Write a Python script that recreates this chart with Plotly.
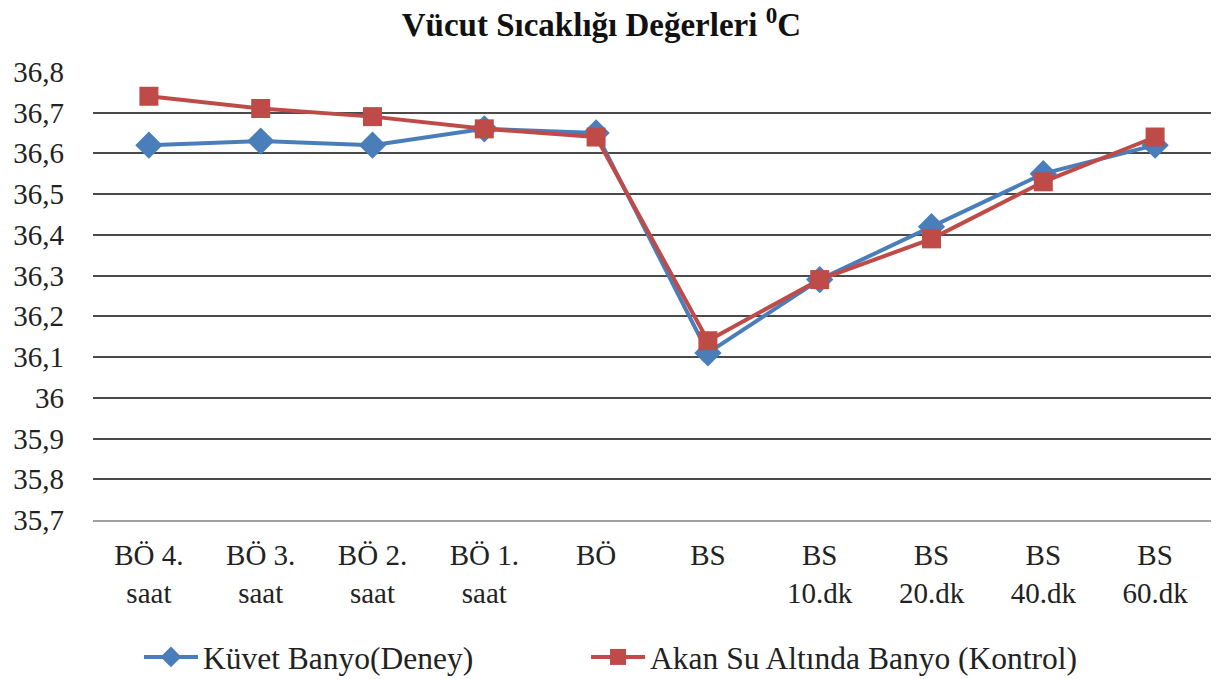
import plotly.graph_objects as go

categories = ["BÖ 4.<br>saat", "BÖ 3.<br>saat", "BÖ 2.<br>saat", "BÖ 1.<br>saat", "BÖ",
              "BS", "BS<br>10.dk", "BS<br>20.dk", "BS<br>40.dk", "BS<br>60.dk"]
kuvet = [36.62, 36.63, 36.62, 36.66, 36.65, 36.11, 36.29, 36.42, 36.55, 36.62]
akan = [36.74, 36.71, 36.69, 36.66, 36.64, 36.14, 36.29, 36.39, 36.53, 36.64]
ytick_vals = [35.7, 35.8, 35.9, 36.0, 36.1, 36.2, 36.3, 36.4, 36.5, 36.6, 36.7, 36.8]
ytick_text = ["35,7", "35,8", "35,9", "36", "36,1", "36,2", "36,3", "36,4", "36,5", "36,6", "36,7", "36,8"]

FONT = "Liberation Serif, Times New Roman, serif"
fig = go.Figure()
fig.add_trace(go.Scatter(
    x=categories, y=kuvet, mode="lines+markers", name="Küvet Banyo(Deney)",
    line=dict(color="#4A7EBB", width=4),
    marker=dict(symbol="diamond", size=21, color="#4A7EBB"),
    legend="legend",
))
fig.add_trace(go.Scatter(
    x=categories, y=akan, mode="lines+markers", name="Akan Su Altında Banyo (Kontrol)",
    line=dict(color="#BE4B48", width=4),
    marker=dict(symbol="square", size=19, color="#BE4B48"),
    legend="legend2",
))

legend_common = dict(orientation="h", xanchor="left", y=-0.305, yanchor="middle",
                     font=dict(family=FONT, size=31.5, color="#222222"),
                     itemwidth=54, bgcolor="rgba(0,0,0,0)")

fig.update_layout(
    width=1216, height=671,
    margin=dict(l=85, r=13, t=63, b=159, autoexpand=False),
    paper_bgcolor="white", plot_bgcolor="white",
    font=dict(family=FONT, size=29, color="#222222"),
    title=dict(text="<b>Vücut Sıcaklığı Değerleri <sup>0</sup>C</b>",
               x=0.488, xanchor="center", yref="container", y=0.992, yanchor="top",
               font=dict(family=FONT, size=33, color="#111111")),
    showlegend=True,
    legend=dict(x=0.0411, **legend_common),
    legend2=dict(x=0.441, **legend_common),
    xaxis=dict(showgrid=False, showline=True, linecolor="#A0A0A0", linewidth=2,
               ticks="", ticklabelstandoff=8, range=[-0.5, 9.5], tickangle=0,
               automargin=False,
               tickfont=dict(family=FONT, size=29, color="#222222")),
    yaxis=dict(range=[35.7, 36.802], tickvals=ytick_vals, ticktext=ytick_text,
               showgrid=True, gridcolor="#4A4A4A", gridwidth=2, zeroline=False,
               showline=False, ticks="", ticklabelstandoff=28, automargin=False,
               tickfont=dict(family=FONT, size=29, color="#222222")),
)
fig.write_html("out.html")
